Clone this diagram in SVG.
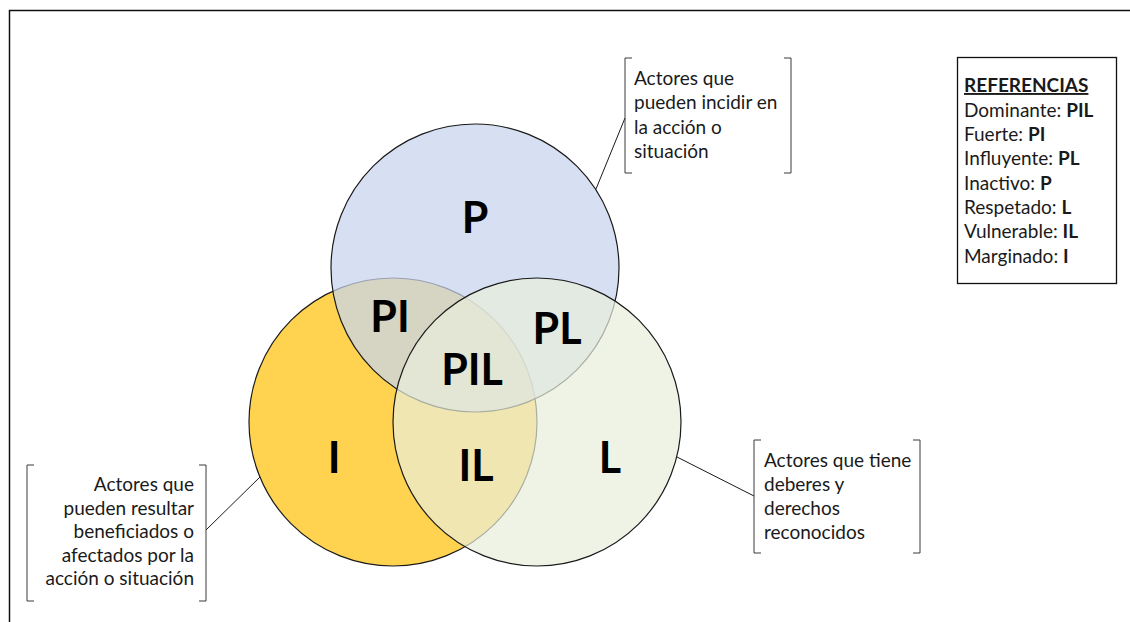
<svg xmlns="http://www.w3.org/2000/svg" width="1130" height="622" viewBox="0 0 1130 622">
<style>
.txt{font-family:Lato,"Open Sans","Liberation Sans",sans-serif;font-size:19px;fill:#1a1a1a}
.big{font-family:Lato,"Open Sans","Liberation Sans",sans-serif;font-size:43px;font-weight:bold;fill:#000;text-anchor:middle}
.b{font-weight:bold}
.br{fill:none;stroke:#3a3a3a;stroke-width:1}
.conn{fill:none;stroke:#1a1a1a;stroke-width:1}
.circ{stroke:#1a1a1a;stroke-width:1.2}
</style>
<rect width="1130" height="622" fill="#fff"/>
<g id="frame"><path d="M9.5,622 V10.5 H1130" fill="none" stroke="#111" stroke-width="1.5"/></g>

<g id="circle-I"><circle class="circ" cx="393" cy="422" r="144" fill="#FFD350"/></g>
<g id="circle-P"><circle class="circ" cx="475" cy="268" r="144" fill="#C7D4ED" fill-opacity="0.73"/></g>
<g id="circle-L"><circle class="circ" cx="537" cy="422" r="144" fill="#E8EEDB" fill-opacity="0.7"/></g>

<g id="label-P"><text class="big" x="475" y="233">P</text></g>
<g id="label-PI"><text class="big" x="390" y="332">PI</text></g>
<g id="label-PL"><text class="big" x="557" y="344">PL</text></g>
<g id="label-PIL"><text class="big" x="472" y="385">PIL</text></g>
<g id="label-I"><text class="big" x="334" y="473">I</text></g>
<g id="label-IL"><text class="big" x="476" y="481">IL</text></g>
<g id="label-L"><text class="big" x="610" y="473">L</text></g>

<g id="connectors">
<line class="conn" x1="625" y1="118" x2="596" y2="189"/>
<line class="conn" x1="206" y1="530" x2="260" y2="477"/>
<line class="conn" x1="754" y1="496" x2="677" y2="457"/>
</g>

<g id="callout-P">
<path class="br" d="M632,58 H625 V173 H632 M784,58 H791 V173 H784"/>
<text class="txt" x="634" y="85">Actores que</text>
<text class="txt" x="634" y="109">pueden incidir en</text>
<text class="txt" x="634" y="133.5">la acción o</text>
<text class="txt" x="634" y="158">situación</text>
</g>

<g id="callout-I">
<path class="br" d="M34,465 H27 V601 H34 M199,465 H206 V601 H199"/>
<text class="txt" x="194" y="491" text-anchor="end">Actores que</text>
<text class="txt" x="194" y="514.5" text-anchor="end">pueden resultar</text>
<text class="txt" x="194" y="538" text-anchor="end">beneficiados o</text>
<text class="txt" x="194" y="561.5" text-anchor="end">afectados por la</text>
<text class="txt" x="194" y="585" text-anchor="end">acción o situación</text>
</g>

<g id="callout-L">
<path class="br" d="M761,440 H754 V553 H761 M913,440 H920 V553 H913"/>
<text class="txt" x="764" y="467">Actores que tiene</text>
<text class="txt" x="764" y="491">deberes y</text>
<text class="txt" x="764" y="515">derechos</text>
<text class="txt" x="764" y="539">reconocidos</text>
</g>

<g id="legend">
<rect x="957.5" y="57.5" width="159" height="226" fill="#fff" stroke="#111" stroke-width="1.3"/>
<text class="txt b" x="964" y="92" text-decoration="underline">REFERENCIAS</text>
<text class="txt" x="964" y="116.5">Dominante: <tspan class="b">PIL</tspan></text>
<text class="txt" x="964" y="141">Fuerte: <tspan class="b">PI</tspan></text>
<text class="txt" x="964" y="165">Influyente: <tspan class="b">PL</tspan></text>
<text class="txt" x="964" y="189.5">Inactivo: <tspan class="b">P</tspan></text>
<text class="txt" x="964" y="214">Respetado: <tspan class="b">L</tspan></text>
<text class="txt" x="964" y="238">Vulnerable: <tspan class="b">IL</tspan></text>
<text class="txt" x="964" y="262.5">Marginado: <tspan class="b">I</tspan></text>
</g>
</svg>
